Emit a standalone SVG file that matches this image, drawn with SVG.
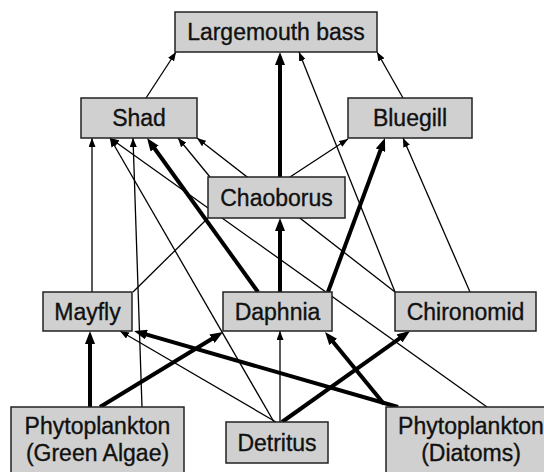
<svg xmlns="http://www.w3.org/2000/svg" width="544" height="472" viewBox="0 0 544 472">
<style>
.box{fill:#d0d0d0;stroke:#222;stroke-width:1.5}
.lbl{font-family:"Liberation Sans",Arial,sans-serif;font-size:23px;fill:#111;stroke:#111;stroke-width:0.35;text-anchor:middle}
.thin{stroke:#000;stroke-width:1.3;fill:none;marker-end:url(#ah)}
.thick{stroke:#000;stroke-width:4;fill:none;marker-end:url(#AH)}
.plain{stroke:#000;stroke-width:1.3;fill:none}
</style>
<defs>
<marker id="ah" viewBox="0 0 9 7" refX="9" refY="3.5" markerWidth="9" markerHeight="7" markerUnits="userSpaceOnUse" orient="auto"><path d="M0,0L9,3.5L0,7z" fill="#000"/></marker>
<marker id="AH" viewBox="0 0 13 10" refX="5" refY="5" markerWidth="13" markerHeight="10" markerUnits="userSpaceOnUse" orient="auto"><path d="M0,0L13,5L0,10z" fill="#000"/></marker>
</defs>
<rect width="544" height="472" fill="#fff"/>
<g id="connectors">
<line class="thin" x1="146" y1="98" x2="176" y2="52"/>
<line class="thin" x1="403" y1="98" x2="377" y2="52"/>
<line class="thin" x1="395" y1="292" x2="299" y2="52"/>
<line class="thin" x1="92" y1="292" x2="92" y2="138"/>
<line class="thin" x1="274" y1="422" x2="110" y2="138"/>
<line class="thin" x1="487" y1="407" x2="110" y2="138"/>
<line class="thin" x1="142" y1="407" x2="133" y2="138"/>
<line class="thin" x1="210" y1="177" x2="178" y2="138"/>
<line class="thin" x1="395" y1="292" x2="197" y2="138"/>
<line class="thin" x1="290" y1="177" x2="348" y2="139"/>
<line class="thin" x1="470" y1="292" x2="403" y2="138"/>
<line class="plain" x1="133" y1="292" x2="208" y2="218"/>
<line class="thin" x1="276" y1="422" x2="120" y2="331"/>
<line class="thin" x1="280" y1="422" x2="280" y2="331"/>
<line class="thick" x1="280" y1="177" x2="280" y2="60"/>
<line class="thick" x1="280" y1="292" x2="280" y2="226"/>
<line class="thick" x1="258" y1="292" x2="151.7" y2="144.5"/>
<line class="thick" x1="328" y1="292" x2="382.2" y2="145.5"/>
<line class="thick" x1="90" y1="407" x2="90" y2="339"/>
<line class="thick" x1="100" y1="407" x2="216.2" y2="336.2"/>
<line class="thick" x1="398" y1="407" x2="141.7" y2="333.2"/>
<line class="thick" x1="384" y1="404" x2="330.1" y2="338.2"/>
<line class="thick" x1="282" y1="422" x2="403.5" y2="335.6"/>
</g>
<g id="largemouth-bass"><rect class="box" x="175" y="12" width="202" height="40"/><text class="lbl" x="276" y="40">Largemouth bass</text></g>
<g id="shad"><rect class="box" x="81" y="98" width="116" height="40"/><text class="lbl" x="139" y="126">Shad</text></g>
<g id="bluegill"><rect class="box" x="348" y="98" width="124" height="40"/><text class="lbl" x="410" y="126">Bluegill</text></g>
<g id="chaoborus"><rect class="box" x="208" y="177" width="137" height="41"/><text class="lbl" x="276.5" y="205.5">Chaoborus</text></g>
<g id="mayfly"><rect class="box" x="43" y="292" width="89" height="39"/><text class="lbl" x="87.5" y="319.5">Mayfly</text></g>
<g id="daphnia"><rect class="box" x="223" y="292" width="109" height="39"/><text class="lbl" x="277.5" y="319.5">Daphnia</text></g>
<g id="chironomid"><rect class="box" x="395" y="292" width="141" height="39"/><text class="lbl" x="465.5" y="319.5">Chironomid</text></g>
<g id="phyto-green"><rect class="box" x="11" y="407" width="173" height="70"/><text class="lbl" x="97.5" y="434">Phytoplankton</text><text class="lbl" x="97.5" y="461">(Green Algae)</text></g>
<g id="detritus"><rect class="box" x="226" y="422" width="102" height="41"/><text class="lbl" x="277" y="450.5">Detritus</text></g>
<g id="phyto-diatoms"><rect class="box" x="386" y="407" width="170" height="70"/><text class="lbl" x="471" y="434">Phytoplankton</text><text class="lbl" x="471" y="461">(Diatoms)</text></g>
</svg>
